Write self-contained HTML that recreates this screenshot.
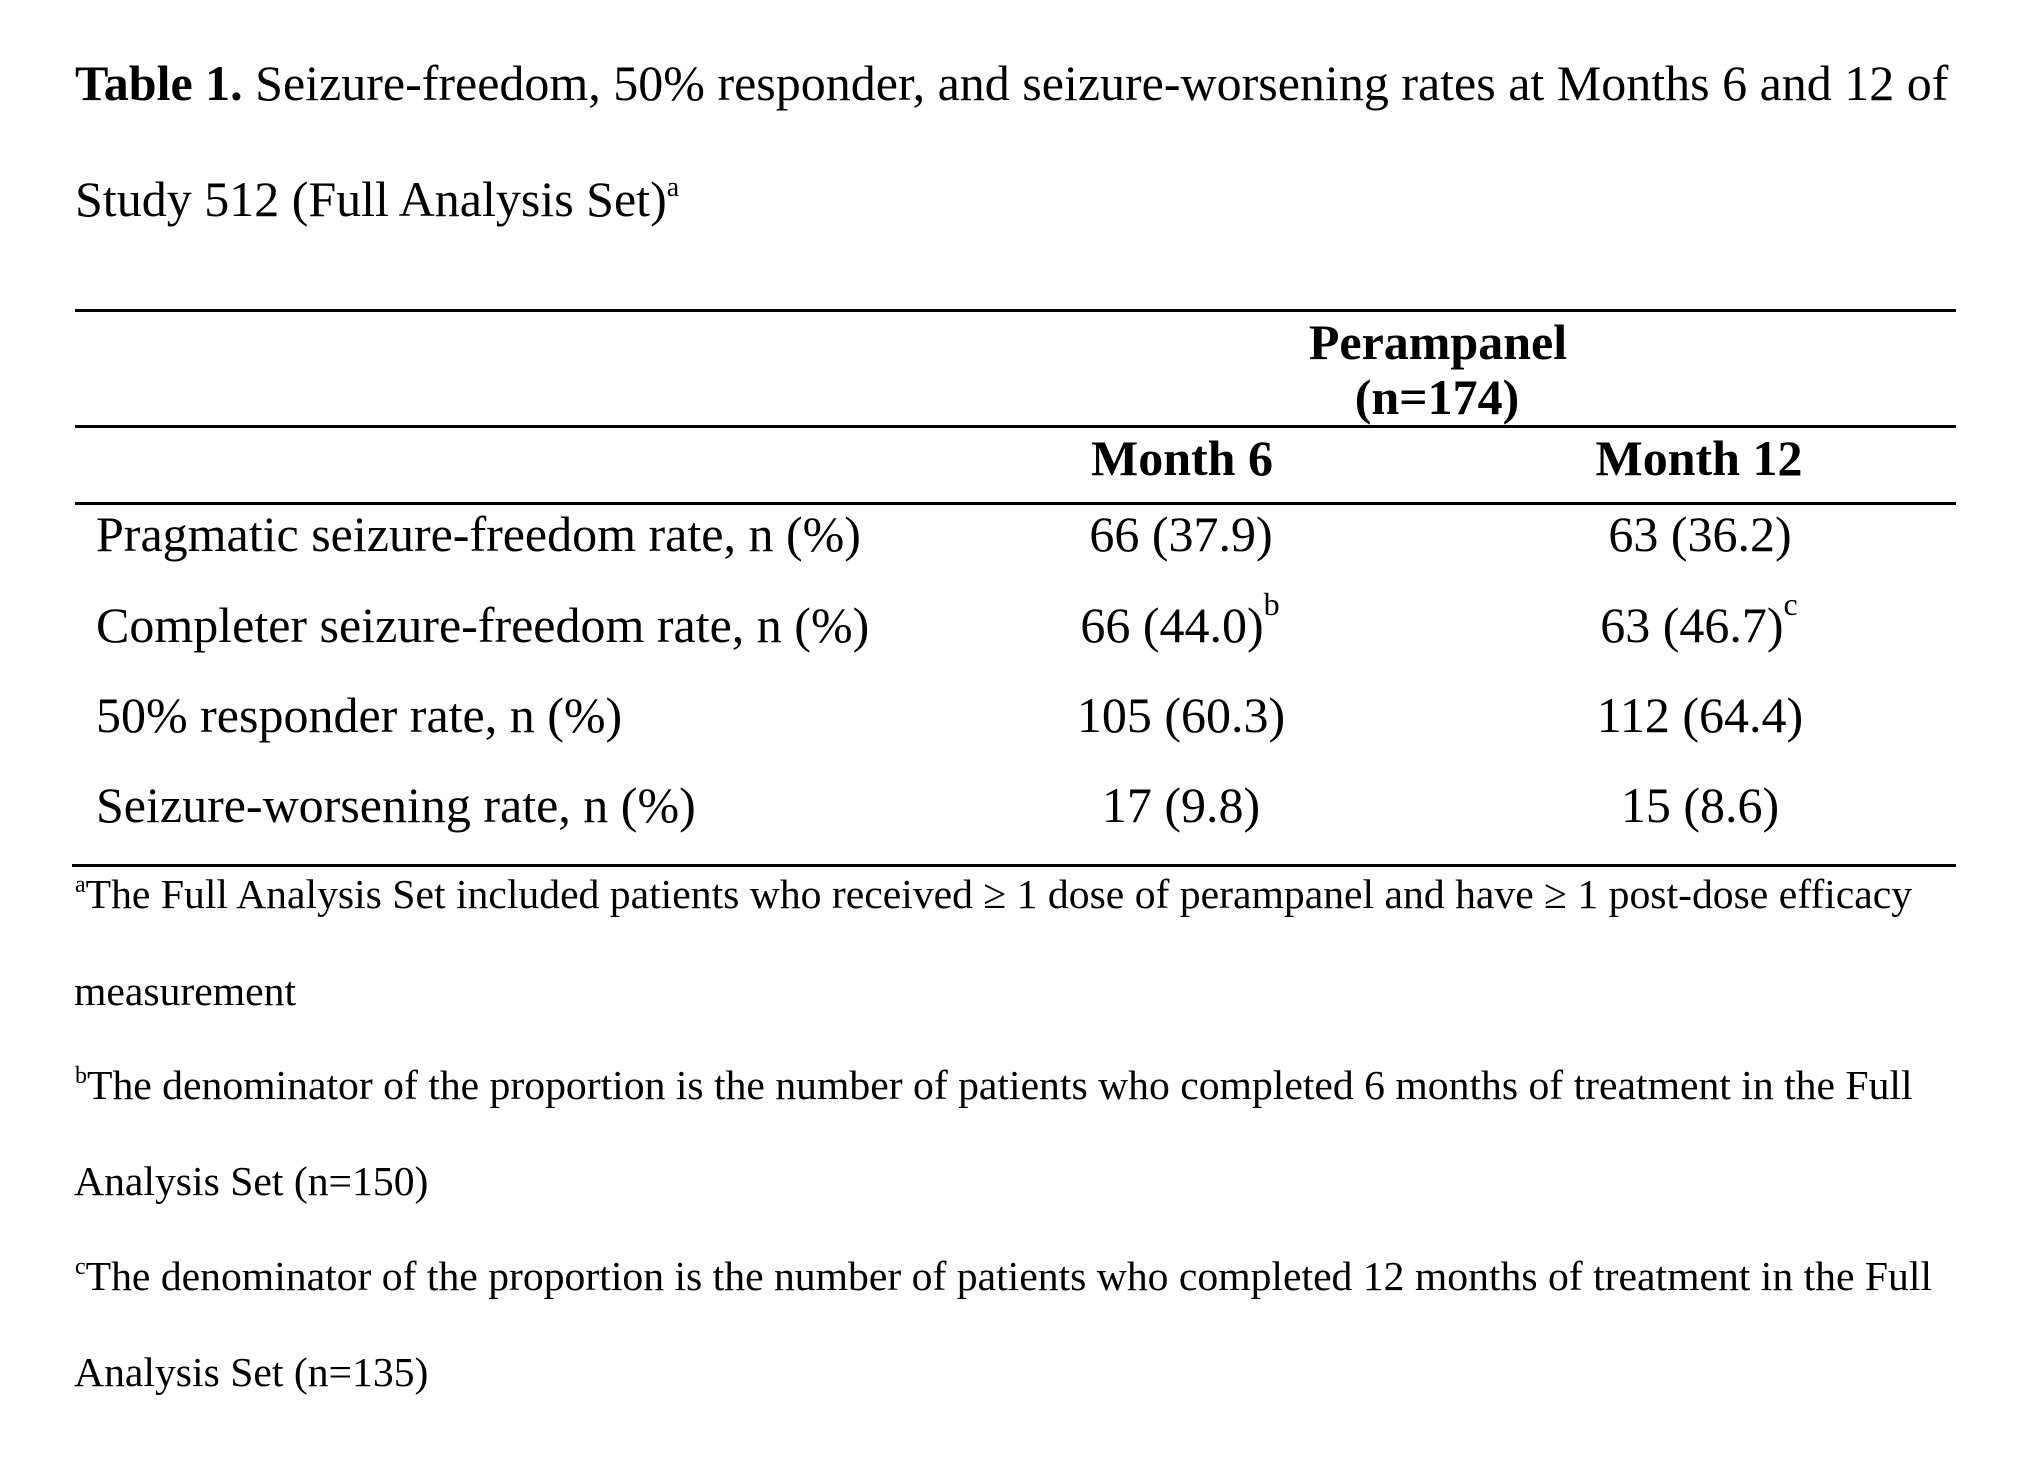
<!DOCTYPE html>
<html>
<head>
<meta charset="utf-8">
<style>
  html, body { margin:0; padding:0; background:#fff; }
  body { width:2031px; height:1483px; position:relative; overflow:hidden;
         font-family:"Liberation Serif", "Times New Roman", serif; color:#000; }
  .t { position:absolute; white-space:nowrap; font-size:50px; line-height:50px; height:50px; }
  .f { position:absolute; white-space:nowrap; font-size:41.67px; line-height:41.67px; height:42px; }
  .c { text-align:center; }
  .b { font-weight:bold; }
  .rule { position:absolute; background:#000; height:3px; }
  .sup { position:relative; line-height:0; }
</style>
</head>
<body>
  <!-- Title -->
  <div class="t" style="left:75px; top:58px;"><b>Table 1.</b> Seizure-freedom, 50% responder, and seizure-worsening rates at Months 6 and 12 of</div>
  <div class="t" style="left:75px; top:174px;">Study 512 (Full Analysis Set)<span class="sup" style="font-size:28px; top:-20px;">a</span></div>

  <!-- Rules -->
  <div class="rule" style="left:75px; width:1881px; top:309px;"></div>
  <div class="rule" style="left:75px; width:1881px; top:425px;"></div>
  <div class="rule" style="left:75px; width:1881px; top:502px;"></div>
  <div class="rule" style="left:72px; width:1884px; top:864px;"></div>

  <!-- Header -->
  <div class="t c b" style="left:1238px; width:400px; top:317px;">Perampanel</div>
  <div class="t c b" style="left:1237px; width:400px; top:372px;">(n=174)</div>
  <div class="t c b" style="left:982px; width:400px; top:433px;">Month 6</div>
  <div class="t c b" style="left:1499px; width:400px; top:433px;">Month 12</div>

  <!-- Rows -->
  <div class="t" style="left:96px; top:509px;">Pragmatic seizure-freedom rate, n (%)</div>
  <div class="t c" style="left:981px; width:400px; top:509px;">66 (37.9)</div>
  <div class="t c" style="left:1500px; width:400px; top:509px;">63 (36.2)</div>

  <div class="t" style="left:96px; top:600px;">Completer seizure-freedom rate, n (%)</div>
  <div class="t c" style="left:980px; width:400px; top:600px;">66 (44.0)<span class="sup" style="font-size:32px; top:-27px;">b</span></div>
  <div class="t c" style="left:1499px; width:400px; top:600px;">63 (46.7)<span class="sup" style="font-size:32px; top:-27px;">c</span></div>

  <div class="t" style="left:96px; top:690px;">50% responder rate, n (%)</div>
  <div class="t c" style="left:981px; width:400px; top:690px;">105 (60.3)</div>
  <div class="t c" style="left:1500px; width:400px; top:690px;">112 (64.4)</div>

  <div class="t" style="left:96px; top:780px;">Seizure-worsening rate, n (%)</div>
  <div class="t c" style="left:981px; width:400px; top:780px;">17 (9.8)</div>
  <div class="t c" style="left:1500px; width:400px; top:780px;">15 (8.6)</div>

  <!-- Footnotes -->
  <div class="f" style="left:75px; top:875px;"><span class="sup" style="font-size:24px; top:-16px;">a</span>The Full Analysis Set included patients who received ≥ 1 dose of perampanel and have ≥ 1 post-dose efficacy</div>
  <div class="f" style="left:74px; top:972px;">measurement</div>
  <div class="f" style="left:75px; top:1066px;"><span class="sup" style="font-size:24px; top:-16px;">b</span>The denominator of the proportion is the number of patients who completed 6 months of treatment in the Full</div>
  <div class="f" style="left:74px; top:1162px;">Analysis Set (n=150)</div>
  <div class="f" style="left:75px; top:1257px;"><span class="sup" style="font-size:24px; top:-16px;">c</span>The denominator of the proportion is the number of patients who completed 12 months of treatment in the Full</div>
  <div class="f" style="left:74px; top:1353px;">Analysis Set (n=135)</div>
</body>
</html>
